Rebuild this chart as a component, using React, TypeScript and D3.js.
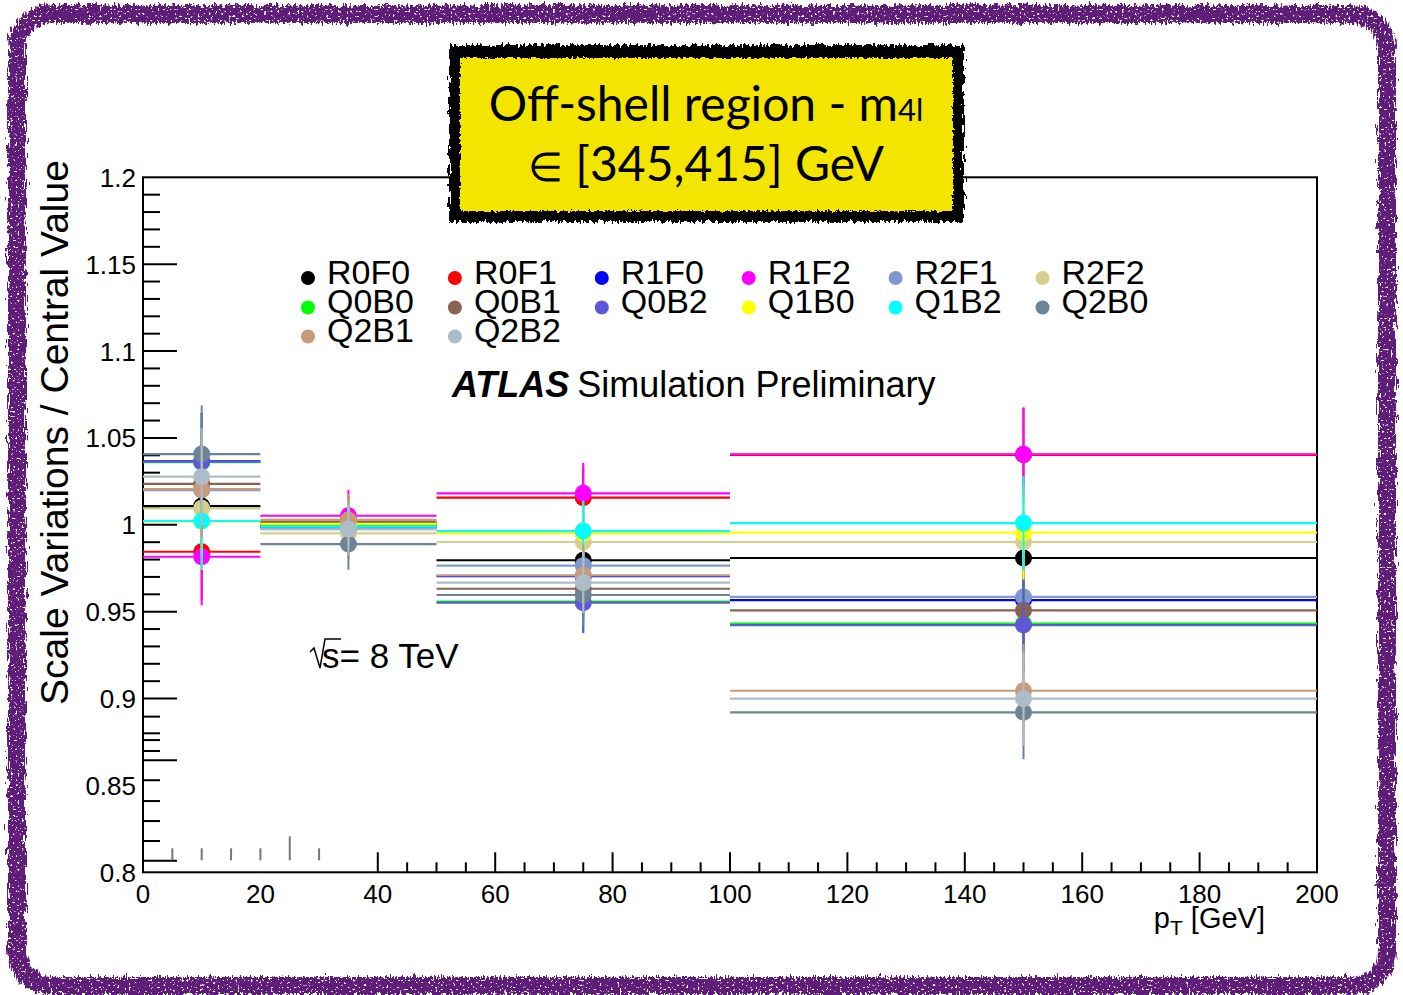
import React from 'react';
import * as d3 from 'd3';

const W = 1403;
const H = 995;

// pT bins [GeV] and per-bin uncertainty on the ratio
const binEdges = [0, 20, 50, 100, 200];
const binErrors = [0.028, 0.0148, 0.0176, 0.027];

// Ratio to central value, one entry per pT bin
const R0F0 = [1.0108, 1.0, 0.9796, 0.9809];
const R0F1 = [0.9845, 1.001, 1.0156, 1.0403];
const R1F0 = [1.0365, 0.999, 0.9704, 0.9567];
const R1F2 = [0.9816, 1.0052, 1.0181, 1.0406];
const R2F1 = [1.02, 0.9976, 0.9765, 0.9585];
const R2F2 = [1.0095, 0.9951, 0.9901, 0.9901];
const Q0B0 = [1.036, 0.9995, 0.9558, 0.9431];
const Q0B1 = [1.0235, 1.0015, 0.9632, 0.9508];
const Q0B2 = [1.0363, 0.9985, 0.9552, 0.9423];
const Q1B0 = [1.002, 1.0005, 0.9951, 0.9955];
const Q1B2 = [1.0022, 0.9989, 0.9964, 1.001];
const Q2B0 = [1.0407, 0.9889, 0.9596, 0.8921];
const Q2B1 = [1.0205, 1.0028, 0.9709, 0.9045];
const Q2B2 = [1.0277, 0.9974, 0.9667, 0.8999];

const seriesNames = ['R0F0', 'R0F1', 'R1F0', 'R1F2', 'R2F1', 'R2F2', 'Q0B0', 'Q0B1', 'Q0B2', 'Q1B0', 'Q1B2', 'Q2B0', 'Q2B1', 'Q2B2'];
const seriesValues = [R0F0, R0F1, R1F0, R1F2, R2F1, R2F2, Q0B0, Q0B1, Q0B2, Q1B0, Q1B2, Q2B0, Q2B1, Q2B2];
const seriesColors = ['#000000', '#ff0000', '#0000ff', '#ff00ff', '#7f99d0', '#d6cf8c', '#00ff00', '#876452', '#5c58d8', '#ffff00', '#00ffff', '#6d8396', '#c99a7a', '#adbdc8'];

// Axis ticks
const yLabels = [0.8, 0.85, 0.9, 0.95, 1.0, 1.05, 1.1, 1.15, 1.2];
const yMajorTicks = [0.9, 0.95, 1.0, 1.05, 1.1, 1.15, 0.8645, 0.8067];
const yMinorTicks = [
  0.91, 0.92, 0.93, 0.94, 0.96, 0.97, 0.98, 0.99, 1.01, 1.02, 1.03, 1.04,
  1.06, 1.07, 1.08, 1.09, 1.11, 1.12, 1.13, 1.14, 1.16, 1.17, 1.18, 1.19,
  0.8896, 0.88, 0.8761, 0.8698, 0.853, 0.841, 0.8295, 0.818,
];
const xLabels = [0, 20, 40, 60, 80, 100, 120, 140, 160, 180, 200];
const xMajorTicks = [40, 60, 80, 100, 120, 140, 160, 180];
const xMinorTicks = [45, 50, 55, 65, 70, 75, 85, 90, 95, 105, 110, 115, 125, 130, 135, 145, 150, 155, 165, 170, 175, 185, 190, 195];
const xStubTicks = [5, 10, 15, 20, 25, 30];

const FONT = '"Liberation Sans", Arial, Helvetica, sans-serif';
const TITLE_FONT = 'Lato, "Open Sans", sans-serif';

export default function App() {
  const x = d3.scaleLinear().domain([0, 200]).range([143, 1317]);
  const y = d3.scaleLinear().domain([0.8, 1.2]).range([872.3, 177.3]);
  const y0 = y(0.8);

  const bins = binEdges.slice(0, -1).map((lo, i) => ({
    lo,
    hi: binEdges[i + 1],
    mid: (lo + binEdges[i + 1]) / 2,
    err: binErrors[i],
  }));

  const legendCol = (i: number) => 308 + 146.9 * (i % 6);
  const legendRow = (i: number) => Math.floor(i / 6);
  const legendBase = [283.5, 313, 342];

  return (
    <svg
      width={W}
      height={H}
      viewBox={`0 0 ${W} ${H}`}
      style={{ position: 'absolute', left: 0, top: 0, display: 'block', background: '#fff' }}
    >
      <defs>
        <filter id="roughBand" x="-5%" y="-5%" width="110%" height="110%">
          <feTurbulence type="fractalNoise" baseFrequency="0.55 0.09" numOctaves="2" seed="3" result="noise" />
          <feDisplacementMap in="SourceGraphic" in2="noise" scale="11" xChannelSelector="R" yChannelSelector="G" result="disp" />
          <feTurbulence type="fractalNoise" baseFrequency="0.45" numOctaves="1" seed="11" result="n2" />
          <feColorMatrix in="n2" type="matrix" values="0 0 0 0 0  0 0 0 0 0  0 0 0 0 0  -14 0 0 0 9.8" result="holes" />
          <feComposite in="disp" in2="holes" operator="in" />
        </filter>
        <filter id="roughBox" x="-5%" y="-10%" width="110%" height="120%">
          <feTurbulence type="fractalNoise" baseFrequency="0.5 0.12" numOctaves="2" seed="5" result="noise" />
          <feDisplacementMap in="SourceGraphic" in2="noise" scale="10" xChannelSelector="R" yChannelSelector="G" />
        </filter>
        <filter id="roughFill" x="-5%" y="-10%" width="110%" height="120%">
          <feTurbulence type="fractalNoise" baseFrequency="0.35" numOctaves="2" seed="8" result="noise" />
          <feDisplacementMap in="SourceGraphic" in2="noise" scale="6" xChannelSelector="R" yChannelSelector="G" />
        </filter>
      </defs>

      <rect x={0} y={0} width={W} height={H} fill="#fff" />

      {/* outer hand-drawn frame */}
      <rect x={17} y={14} width={1370} height={972} rx={34} ry={34} fill="none" stroke="#5f1a78" strokeWidth={18} filter="url(#roughBand)" />

      {/* plot frame */}
      <rect x={x(0)} y={y(1.2)} width={x(200) - x(0)} height={y0 - y(1.2)} fill="none" stroke="#000" strokeWidth={2} />

      {/* y axis */}
      {yMajorTicks.map((t, i) => (
        <line key={`ymj${i}`} x1={x(0)} x2={x(0) + 34} y1={y(t)} y2={y(t)} stroke="#000" strokeWidth={2} />
      ))}
      {yMinorTicks.map((t, i) => (
        <line key={`ymn${i}`} x1={x(0)} x2={x(0) + 17} y1={y(t)} y2={y(t)} stroke="#000" strokeWidth={2} />
      ))}
      {yLabels.map((t) => (
        <text key={`yl${t}`} x={136} y={y(t) + 9.5} textAnchor="end" fontFamily={FONT} fontSize={26}>
          {d3.format('')(t)}
        </text>
      ))}
      <text
        transform={`translate(68,${(155 + 710) / 2}) rotate(-90)`}
        textAnchor="middle"
        fontFamily={FONT}
        fontSize={39}
      >
        Scale Variations / Central Value
      </text>

      {/* x axis */}
      {xMajorTicks.map((t) => (
        <line key={`xmj${t}`} x1={x(t)} x2={x(t)} y1={y0} y2={y0 - 20} stroke="#000" strokeWidth={2} />
      ))}
      {xMinorTicks.map((t) => (
        <line key={`xmn${t}`} x1={x(t)} x2={x(t)} y1={y0} y2={y0 - 10} stroke="#000" strokeWidth={2} />
      ))}
      {xStubTicks.map((t) => (
        <line key={`xs${t}`} x1={x(t)} x2={x(t)} y1={y0 - 12} y2={t === 25 ? y0 - 36 : y0 - 24} stroke="#777" strokeWidth={2} />
      ))}
      {xLabels.map((t) => (
        <text key={`xl${t}`} x={x(t)} y={903} textAnchor="middle" fontFamily={FONT} fontSize={26}>
          {t}
        </text>
      ))}
      <text x={1265} y={928} textAnchor="end" fontFamily={FONT} fontSize={29}>
        p<tspan fontSize={21} dy={7}>T</tspan>
        <tspan dy={-7}> [GeV]</tspan>
      </text>

      {/* series: bin lines, error bars, markers */}
      {seriesValues.map((vals, s) => (
        <g key={seriesNames[s]}>
          {bins.map((b, i) => (
            <g key={i}>
              <line x1={x(b.lo)} x2={x(b.hi)} y1={y(vals[i])} y2={y(vals[i])} stroke={seriesColors[s]} strokeWidth={2.2} />
              <line x1={x(b.mid)} x2={x(b.mid)} y1={y(vals[i] - b.err)} y2={y(vals[i] + b.err)} stroke={seriesColors[s]} strokeWidth={2} />
              <circle cx={x(b.mid)} cy={y(vals[i])} r={8.5} fill={seriesColors[s]} />
            </g>
          ))}
        </g>
      ))}

      {/* legend */}
      {seriesNames.map((name, i) => (
        <g key={`lg${name}`}>
          <circle cx={legendCol(i)} cy={legendBase[legendRow(i)] - 5.5} r={7} fill={seriesColors[i]} />
          <text x={legendCol(i) + 19} y={legendBase[legendRow(i)]} fontFamily={FONT} fontSize={34}>
            {name}
          </text>
        </g>
      ))}

      {/* labels */}
      <text x={452} y={397} fontFamily={FONT} fontSize={36}>
        <tspan fontWeight="bold" fontStyle="italic">ATLAS</tspan>
        <tspan dx={8}>Simulation Preliminary</tspan>
      </text>
      <path d="M310,652 L314,648 L320,668 L325,639 L341,639" fill="none" stroke="#000" strokeWidth={1.5} />
      <text x={322} y={668} fontFamily={FONT} fontSize={35}>
        s= 8 TeV
      </text>

      {/* region title box */}
      <rect x={449} y={45} width={515} height={177} fill="#000" filter="url(#roughBox)" />
      <rect x={460} y={58} width={493} height={153} fill="#f4e500" filter="url(#roughFill)" />
      <text x={706} y={121} textAnchor="middle" fontFamily={TITLE_FONT} fontSize={48}>
        Off-shell region - m<tspan fontSize={31}>4l</tspan>
      </text>
      <text x={706} y={181} textAnchor="middle" fontFamily={TITLE_FONT} fontSize={48}>
        <tspan fontSize={40}>∈</tspan> [345,415] GeV
      </text>
    </svg>
  );
}
